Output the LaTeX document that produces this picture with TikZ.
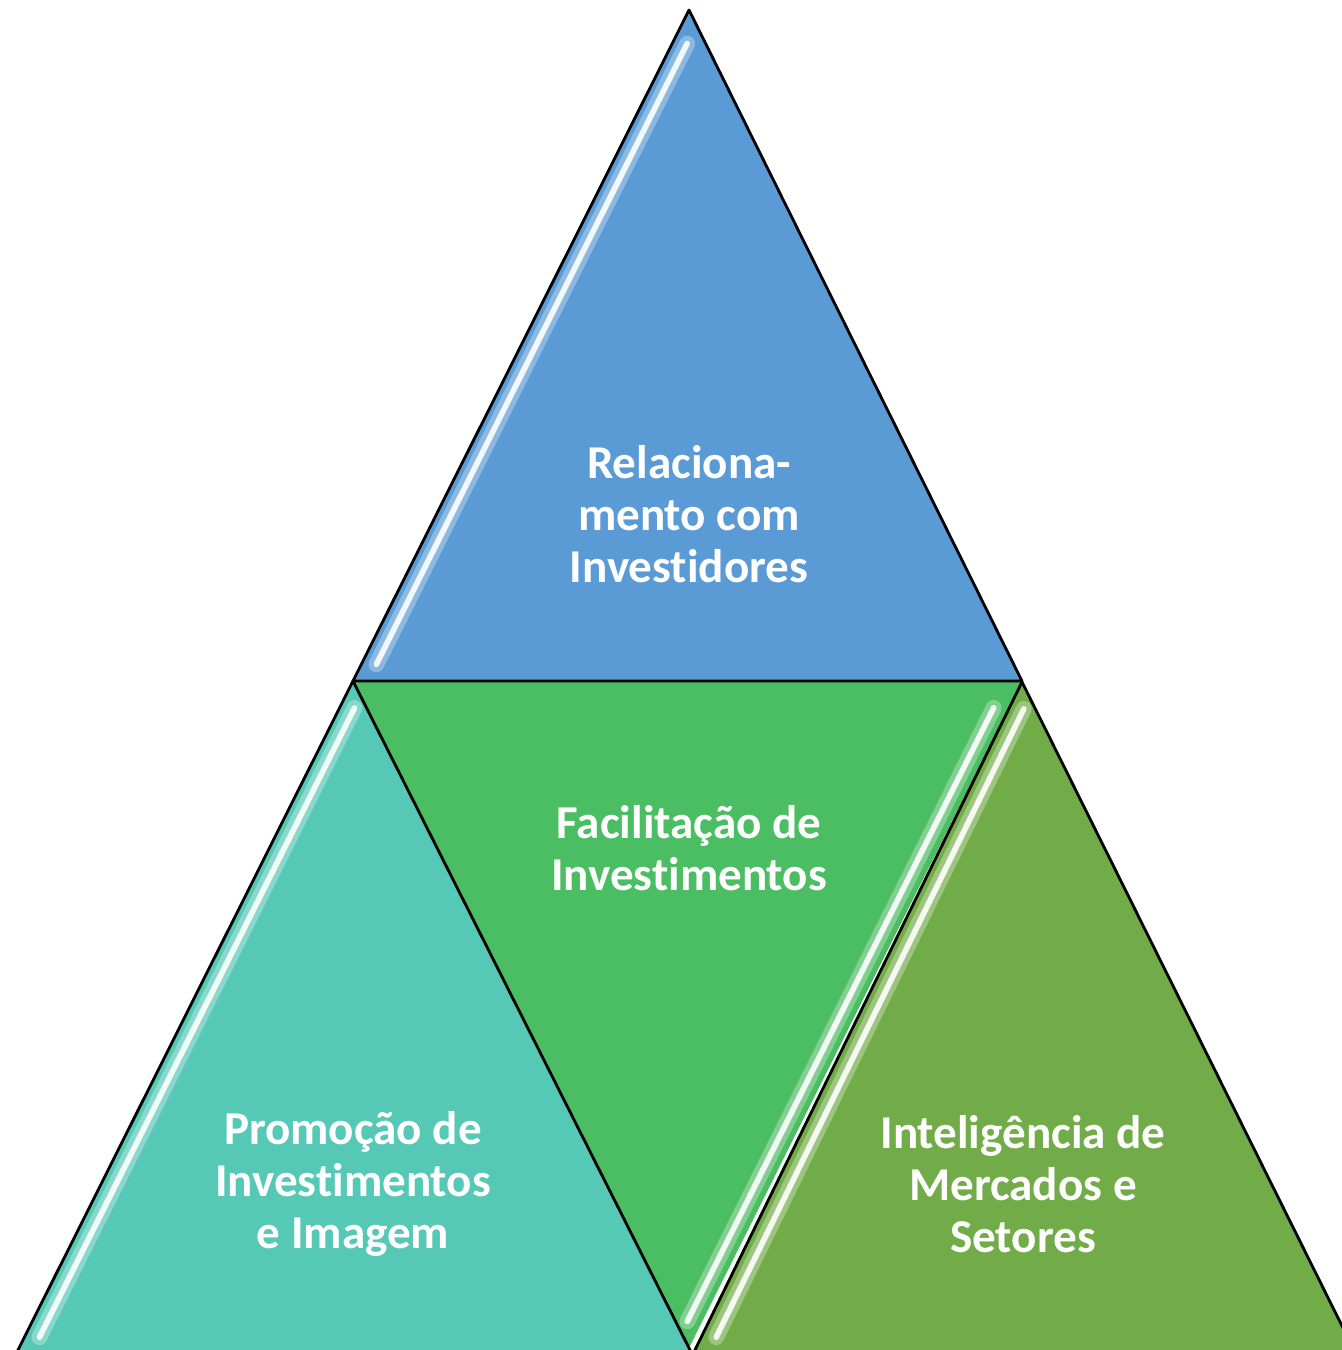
\documentclass[tikz,border=0pt]{standalone}
\usepackage{fontspec}
\setmainfont{Carlito}[Ligatures=NoCommon]
\usetikzlibrary{calc}

\definecolor{relblue}{HTML}{5B9BD5}
\definecolor{facgreen}{HTML}{4BBD63}
\definecolor{promteal}{HTML}{55C9B5}
\definecolor{intgreen}{HTML}{72AC48}

\begin{document}
\begin{tikzpicture}[
  x=0.01cm, y=-0.01cm,
  face/.style={draw=black, line width=0.8pt, line join=round},
  glow/.style={white, line width=4.5pt, opacity=0.3, line cap=round},
  shine/.style={white, line width=1.6pt, opacity=0.9, line cap=round},
  lbl/.style={text=white, font=\bfseries\fontsize{13.4}{14.8}\selectfont, align=center}
]
\useasboundingbox (0,0) rectangle (1342,1350);
\clip (0,0) rectangle (1342,1350);

% corners of the four triangles
\coordinate (apex) at (689,10);
\coordinate (ml) at (353,681);
\coordinate (mr) at (1022,681);
\coordinate (bm) at (689,1348);
\coordinate (bl) at (16,1354);
\coordinate (lbr) at (692,1354);
\coordinate (rtop) at (1022,682);
\coordinate (rbl) at (693,1354);
\coordinate (rbr) at (1356,1354);

% faces
\fill[facgreen] (ml) -- (mr) -- (bm) -- cycle;
\filldraw[face, fill=relblue] (apex) -- (ml) -- (mr) -- cycle;
\filldraw[face, fill=promteal] (ml) -- (bl) -- (lbr) -- cycle;
\filldraw[face, fill=intgreen] (rtop) -- (rbl) -- (rbr) -- cycle;

% bevel highlights
\draw[glow] ($(apex)!0.05!(ml)+(15,0)$) -- ($(apex)!0.975!(ml)+(15,0)$);
\draw[shine] ($(apex)!0.05!(ml)+(15,0)$) -- ($(apex)!0.975!(ml)+(15,0)$);
\draw[glow] ($(ml)!0.04!(bl)+(15,0)$) -- ($(ml)!0.975!(bl)+(15,0)$);
\draw[shine] ($(ml)!0.04!(bl)+(15,0)$) -- ($(ml)!0.975!(bl)+(15,0)$);
\draw[glow] ($(mr)!0.04!(bm)+(-15,0)$) -- ($(mr)!0.96!(bm)+(-15,0)$);
\draw[shine] ($(mr)!0.04!(bm)+(-15,0)$) -- ($(mr)!0.96!(bm)+(-15,0)$);
\draw[glow] ($(rtop)!0.04!(rbl)+(15,0)$) -- ($(rtop)!0.975!(rbl)+(15,0)$);
\draw[shine] ($(rtop)!0.04!(rbl)+(15,0)$) -- ($(rtop)!0.975!(rbl)+(15,0)$);

% labels
\node[lbl] (rel) at (689,514) {Relaciona-\\mento com\\Investidores};
\node[lbl] (fac) at (689,848) {Facilitação de\\Investimentos};
\node[lbl] (prom) at (353,1184) {Promoção de\\Investimentos\\e Imagem};
\node[lbl] (int) at (1023,1184) {Inteligência de\\Mercados e\\Setores};
\end{tikzpicture}
\end{document}
